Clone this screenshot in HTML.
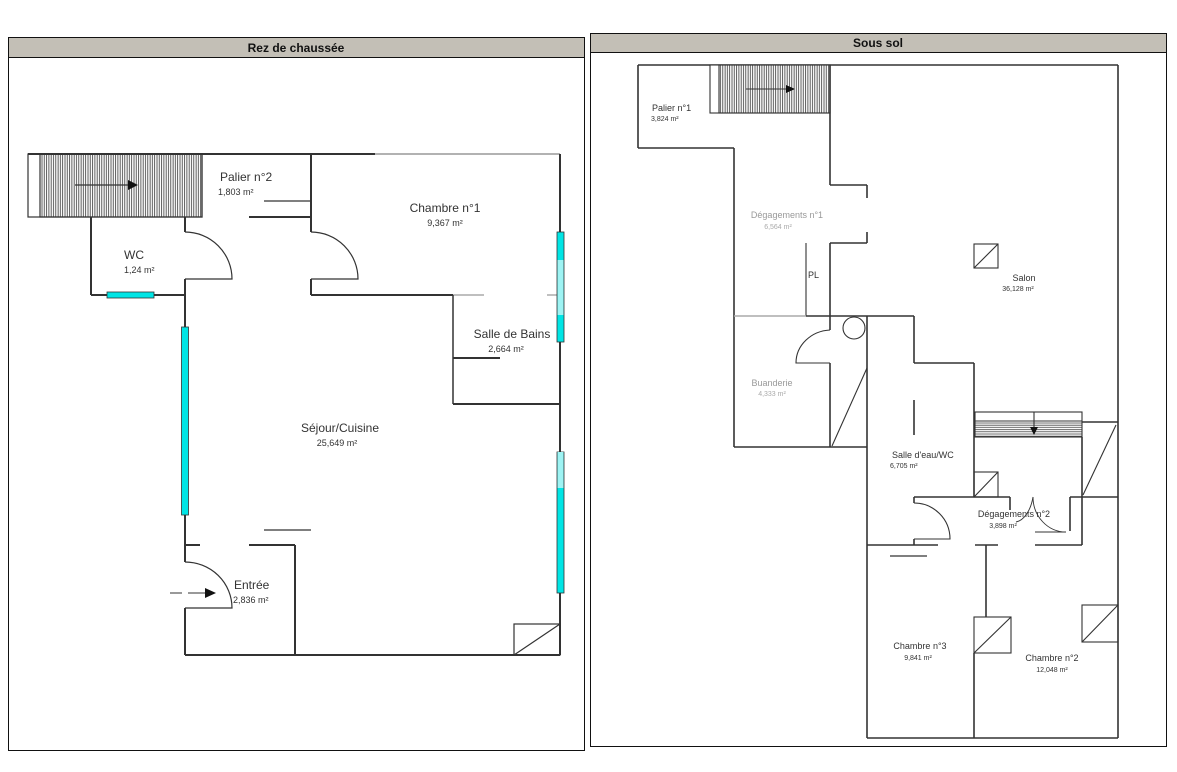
<!DOCTYPE html>
<html><head><meta charset="utf-8"><style>
html,body{margin:0;padding:0;background:#fff;width:1177px;height:772px;overflow:hidden}
svg{display:block;font-family:"Liberation Sans",Arial,sans-serif}
</style></head><body>
<svg width="1177" height="772" viewBox="0 0 1177 772" xmlns="http://www.w3.org/2000/svg">
<defs>
<pattern id="hv" width="2.3" height="10" patternUnits="userSpaceOnUse"><line x1="0.6" y1="0" x2="0.6" y2="10" stroke="#333" stroke-width="0.8"/></pattern>
<pattern id="hh" width="10" height="2.2" patternUnits="userSpaceOnUse"><line x1="0" y1="0.6" x2="10" y2="0.6" stroke="#444" stroke-width="0.8"/></pattern>
</defs>
<!-- left panel -->
<rect x="8.5" y="37.5" width="576" height="713" fill="#fff" stroke="#111" stroke-width="1"/>
<rect x="8.5" y="37.5" width="576" height="20" fill="#c3bfb6" stroke="#111" stroke-width="1"/>
<text x="296" y="52" font-size="12" font-weight="bold" text-anchor="middle" fill="#111">Rez de chaussée</text>
<!-- right panel -->
<rect x="590.5" y="33.5" width="576" height="713" fill="#fff" stroke="#111" stroke-width="1"/>
<rect x="590.5" y="33.5" width="576" height="19" fill="#c3bfb6" stroke="#111" stroke-width="1"/>
<text x="878" y="47" font-size="12" font-weight="bold" text-anchor="middle" fill="#111">Sous sol</text>

<!-- LEFT PLAN -->
<g stroke="#333" stroke-width="2" fill="none">
<rect x="28" y="154" width="174" height="63" stroke-width="1.2" fill="#fff"/>
<rect x="40" y="154" width="162" height="63" fill="url(#hv)" stroke-width="1.2"/>
<line x1="28" y1="154" x2="375" y2="154"/>
<line x1="375" y1="154" x2="560" y2="154" stroke="#999" stroke-width="1.5"/>
<line x1="560" y1="154" x2="560" y2="232"/>
<line x1="560" y1="342" x2="560" y2="452"/>
<line x1="560" y1="593" x2="560" y2="655"/>
<line x1="91" y1="217" x2="91" y2="295"/>
<line x1="91" y1="295" x2="185" y2="295"/>
<line x1="185" y1="217" x2="185" y2="232"/>
<line x1="185" y1="279" x2="185" y2="327"/>
<line x1="185" y1="515" x2="185" y2="562"/>
<line x1="185" y1="545" x2="200" y2="545"/>
<line x1="249" y1="545" x2="295" y2="545"/>
<line x1="295" y1="545" x2="295" y2="655"/>
<line x1="185" y1="608" x2="185" y2="655"/>
<line x1="185" y1="655" x2="560" y2="655"/>
<line x1="264" y1="201" x2="311" y2="201" stroke-width="1.3"/>
<line x1="249" y1="217" x2="311" y2="217"/>
<line x1="311" y1="154" x2="311" y2="232"/>
<line x1="311" y1="279" x2="311" y2="295"/>
<line x1="311" y1="295" x2="453" y2="295"/>
<line x1="453" y1="295" x2="484" y2="295" stroke="#aaa" stroke-width="1.5"/>
<line x1="547" y1="295" x2="560" y2="295" stroke="#aaa" stroke-width="1.5"/>
<line x1="453" y1="295" x2="453" y2="404" stroke-width="1.5"/>
<line x1="453" y1="358" x2="500" y2="358"/>
<line x1="453" y1="404" x2="560" y2="404"/>
<line x1="264" y1="530" x2="311" y2="530" stroke-width="1.3"/>
<path d="M185 232 A47 47 0 0 1 232 279 L185 279" stroke-width="1.2"/>
<path d="M311 232 A47 47 0 0 1 358 279 L311 279" stroke-width="1.2"/>
<path d="M185 562 A47 46 0 0 1 232 608 L185 608" stroke-width="1.2"/>
<rect x="514" y="624" width="46" height="31" stroke-width="1.2"/>
<line x1="514" y1="655" x2="560" y2="624" stroke-width="1.2"/>
<line x1="170" y1="593" x2="182" y2="593" stroke-width="1"/><line x1="188" y1="593" x2="205" y2="593" stroke-width="1"/>
<line x1="75" y1="185" x2="128" y2="185" stroke-width="1.2"/>
</g>
<polygon points="128,180 138,185 128,190" fill="#111"/>
<polygon points="205,588 216,593 205,598" fill="#111"/>
<g fill="#00e5e5" stroke="#333" stroke-width="0.8">
<rect x="107" y="292" width="47" height="6"/>
<rect x="181.5" y="327" width="7" height="188"/>
<rect x="557" y="232" width="7" height="110"/>
<rect x="557" y="452" width="7" height="141"/>
</g>
<rect x="557.5" y="260" width="6" height="55" fill="#9ef3f3"/>
<rect x="557.5" y="452" width="6" height="36" fill="#9ef3f3"/>
<g fill="#333" font-size="12">
<text x="220" y="181">Palier n°2</text>
<text x="218" y="195" font-size="9">1,803  m²</text>
<text x="445" y="212" text-anchor="middle">Chambre n°1</text>
<text x="445" y="226" font-size="9" text-anchor="middle">9,367  m²</text>
<text x="124" y="259">WC</text>
<text x="124" y="273" font-size="9">1,24  m²</text>
<text x="512" y="338" text-anchor="middle">Salle de Bains</text>
<text x="506" y="352" font-size="9" text-anchor="middle">2,664  m²</text>
<text x="340" y="432" text-anchor="middle">Séjour/Cuisine</text>
<text x="337" y="446" font-size="9" text-anchor="middle">25,649  m²</text>
<text x="234" y="589">Entrée</text>
<text x="233" y="603" font-size="9">2,836  m²</text>
</g>

<!-- RIGHT PLAN -->
<g stroke="#333" stroke-width="1.6" fill="none">
<line x1="638" y1="65" x2="1118" y2="65"/>
<line x1="1118" y1="65" x2="1118" y2="738"/>
<line x1="638" y1="65" x2="638" y2="148"/>
<line x1="638" y1="148" x2="734" y2="148"/>
<line x1="734" y1="148" x2="734" y2="447"/>
<rect x="710" y="65" width="120" height="48" stroke-width="1.1" fill="#fff"/>
<rect x="719" y="65" width="111" height="48" fill="url(#hv)" stroke-width="1.1"/>
<line x1="746" y1="89" x2="786" y2="89" stroke-width="1.1"/>
<line x1="830" y1="65" x2="830" y2="185"/>
<line x1="830" y1="185" x2="867" y2="185"/>
<line x1="867" y1="185" x2="867" y2="198"/>
<line x1="867" y1="232" x2="867" y2="243"/>
<line x1="830" y1="243" x2="867" y2="243"/>
<line x1="830" y1="243" x2="830" y2="330"/>
<line x1="806" y1="243" x2="806" y2="316" stroke-width="1.1"/>
<line x1="734" y1="316" x2="806" y2="316" stroke="#aaa"/>
<line x1="806" y1="316" x2="914" y2="316"/>
<line x1="914" y1="316" x2="914" y2="363"/>
<line x1="914" y1="363" x2="974" y2="363"/>
<line x1="974" y1="363" x2="974" y2="412"/>
<line x1="867" y1="316" x2="867" y2="738"/>
<line x1="830" y1="363" x2="830" y2="447"/>
<line x1="734" y1="447" x2="867" y2="447"/>
<path d="M830 330 A36 33 0 0 0 796 363 L830 363" stroke-width="1.1"/>
<circle cx="854" cy="328" r="11" stroke-width="1.1"/>
<line x1="867" y1="368" x2="832" y2="446" stroke-width="1.1"/>
<line x1="914" y1="400" x2="914" y2="435"/>
<rect x="975" y="412" width="107" height="25" stroke-width="1.1"/>
<rect x="975" y="421" width="107" height="16" fill="url(#hh)" stroke-width="1"/>
<line x1="1034" y1="412" x2="1034" y2="428" stroke-width="1.1"/>
<line x1="1082" y1="422" x2="1118" y2="422"/>
<line x1="1116" y1="425" x2="1083" y2="495" stroke-width="1.1"/>
<line x1="974" y1="412" x2="974" y2="497"/>
<rect x="974" y="472" width="24" height="25" stroke-width="1.1"/>
<line x1="974" y1="497" x2="998" y2="472" stroke-width="1.1"/>
<line x1="914" y1="497" x2="1010" y2="497"/>
<line x1="1010" y1="497" x2="1010" y2="510"/>
<line x1="1070" y1="497" x2="1118" y2="497"/>
<line x1="1070" y1="497" x2="1070" y2="531"/>
<line x1="1082" y1="437" x2="1082" y2="545"/>
<line x1="914" y1="497" x2="914" y2="503"/>
<path d="M914 503 A36 36 0 0 1 950 539 L914 539" stroke-width="1.1"/>
<line x1="914" y1="539" x2="914" y2="545"/>
<line x1="867" y1="545" x2="938" y2="545"/>
<line x1="975" y1="545" x2="998" y2="545"/>
<line x1="1035" y1="545" x2="1082" y2="545"/>
<line x1="890" y1="556" x2="927" y2="556" stroke-width="1.2"/>
<path d="M1033 497 A33 35 0 0 0 1066 532 L1035 532" stroke-width="0.9"/>
<path d="M1033 497 A20 35 0 0 1 1016 522" stroke-width="0.9"/>
<line x1="986" y1="545" x2="986" y2="617"/>
<rect x="974" y="617" width="37" height="36" stroke-width="1.1"/>
<line x1="974" y1="653" x2="1011" y2="617" stroke-width="1.1"/>
<line x1="974" y1="653" x2="974" y2="738"/>
<rect x="1082" y="605" width="36" height="37" stroke-width="1.1"/>
<line x1="1082" y1="642" x2="1118" y2="605" stroke-width="1.1"/>
<line x1="867" y1="738" x2="1118" y2="738"/>
<rect x="974" y="244" width="24" height="24" stroke-width="1.1"/>
<line x1="974" y1="268" x2="998" y2="244" stroke-width="1.1"/>
</g>
<polygon points="786,85 795,89 786,93" fill="#111"/>
<polygon points="1030,427 1034,435 1038,427" fill="#111"/>
<g fill="#333" font-size="9">
<text x="652" y="111">Palier n°1</text>
<text x="651" y="121" font-size="7">3,824  m²</text>
<text x="787" y="218" text-anchor="middle" fill="#999">Dégagements n°1</text>
<text x="778" y="229" font-size="7" text-anchor="middle" fill="#aaa">6,564  m²</text>
<text x="808" y="278">PL</text>
<text x="1024" y="281" text-anchor="middle">Salon</text>
<text x="1018" y="291" font-size="7" text-anchor="middle">36,128  m²</text>
<text x="772" y="386" text-anchor="middle" fill="#999">Buanderie</text>
<text x="772" y="396" font-size="7" text-anchor="middle" fill="#aaa">4,333  m²</text>
<text x="892" y="458">Salle d'eau/WC</text>
<text x="890" y="468" font-size="7">6,705  m²</text>
<text x="1014" y="517" text-anchor="middle">Dégagements n°2</text>
<text x="1003" y="528" font-size="7" text-anchor="middle">3,898  m²</text>
<text x="920" y="649" text-anchor="middle">Chambre n°3</text>
<text x="918" y="660" font-size="7" text-anchor="middle">9,841  m²</text>
<text x="1052" y="661" text-anchor="middle">Chambre n°2</text>
<text x="1052" y="672" font-size="7" text-anchor="middle">12,048  m²</text>
</g>
</svg>
</body></html>
